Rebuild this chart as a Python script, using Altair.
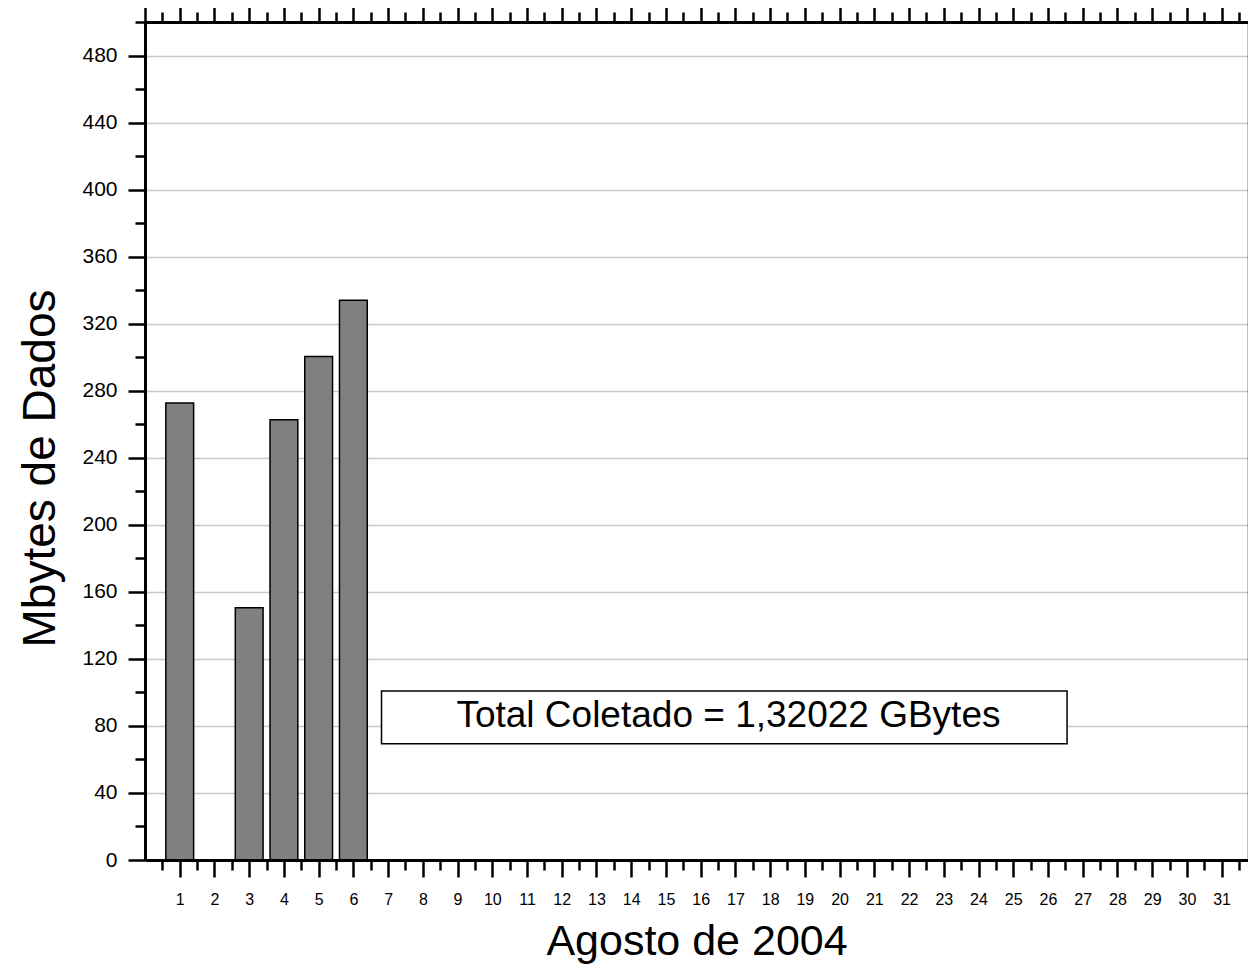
import altair as alt
import pandas as pd

# ---- data ----
days = [1, 3, 4, 5, 6]
mbytes = [272.6, 150.5, 262.7, 300.4, 334.0]

x_major_bottom = list(range(1, 32))
x_major_top = list(range(0, 32))
x_minor = [d + 0.5 for d in range(0, 32)]
y_major = list(range(0, 481, 40))
y_minor = list(range(20, 501, 40))

x_title = "Agosto de 2004"
y_title = "Mbytes de Dados"
note_text = "Total Coletado = 1,32022 GBytes"
note_box = {"x": 6.81, "x2": 26.55, "y": 69.3, "y2": 100.9}
note_pos = {"x": 16.8, "y": 86.0}

FONT = "Liberation Sans"

df = pd.DataFrame({"day": days, "mb": mbytes})
xs = alt.Scale(domain=[0, 31.76], nice=False, zero=False)
ys = alt.Scale(domain=[0, 500], nice=False, zero=False)

base = alt.Chart(df)

bars = base.mark_bar(color="#808080", stroke="black", strokeWidth=1.5).transform_calculate(
    x0="datum.day - 0.4", x1="datum.day + 0.4", y0="0"
).encode(
    x=alt.X("x0:Q", scale=xs, axis=alt.Axis(
        values=x_major_bottom, orient="bottom", tickSize=17, tickWidth=2.5,
        domainWidth=3, labelFontSize=16, labelPadding=14, labelFlush=False,
        labelOverlap=False, title=x_title, titleFontSize=43, titlePadding=13,
        grid=False, zindex=1)),
    x2="x1:Q",
    y=alt.Y("mb:Q", scale=ys, axis=alt.Axis(
        values=y_major, orient="left", tickSize=17, tickWidth=2.5,
        domainWidth=3, labelFontSize=21, labelPadding=11, labelFlush=False,
        labelOverlap=False, title=y_title, titleFontSize=46, titlePadding=17,
        titleY=446, grid=True, gridColor="#c8c8c8", gridWidth=1.5)),
    y2="y0:Q",
)


def axis_layer(xaxis, yaxis):
    return base.mark_point(opacity=0).encode(
        x=alt.X("day:Q", scale=xs, axis=xaxis, title=None),
        y=alt.Y("mb:Q", scale=ys, axis=yaxis, title=None),
    )


bottom_minor = axis_layer(
    alt.Axis(values=x_minor, orient="bottom", tickSize=10, tickWidth=2.5,
             labels=False, domain=False, grid=False, zindex=1), None)
top_major = axis_layer(
    alt.Axis(values=x_major_top, orient="top", tickSize=17, tickWidth=2.5,
             labels=False, domainWidth=3, grid=False, zindex=1), None)
top_minor = axis_layer(
    alt.Axis(values=x_minor, orient="top", tickSize=10, tickWidth=2.5,
             labels=False, domain=False, grid=False, zindex=1), None)
left_minor = axis_layer(
    None, alt.Axis(values=y_minor, orient="left", tickSize=10, tickWidth=2.5,
                   labels=False, domain=False, grid=False, zindex=1))
right_axis = axis_layer(
    None, alt.Axis(orient="right", ticks=False, labels=False,
                   domainWidth=1.5, grid=False, zindex=1))

note_df = pd.DataFrame([note_box])
box = alt.Chart(note_df).mark_rect(fill="white", stroke="black", strokeWidth=1.5).encode(
    x=alt.X("x:Q", scale=xs, axis=None),
    x2="x2:Q",
    y=alt.Y("y:Q", scale=ys, axis=None),
    y2="y2:Q",
)
label_df = pd.DataFrame([dict(note_pos, t=note_text)])
label = alt.Chart(label_df).mark_text(
    font=FONT, fontSize=37, baseline="middle", align="center", color="black"
).encode(
    x=alt.X("x:Q", scale=xs, axis=None),
    y=alt.Y("y:Q", scale=ys, axis=None),
    text="t:N",
)

chart = alt.layer(
    bars, bottom_minor, top_major, top_minor, left_minor, right_axis, box, label
).resolve_axis(
    x="independent", y="independent"
).properties(
    width=1103, height=838,
    autosize=alt.AutoSizeParams(type="none"),
    padding={"left": 137, "top": 14, "right": 0, "bottom": 105},
    background="white",
).configure_view(
    stroke=None
).configure_axis(
    domainColor="black", tickColor="black", labelColor="black", titleColor="black",
    labelFont=FONT, titleFont=FONT, titleFontWeight="normal",
)

chart.save("out.html", embed_options={"renderer": "svg", "actions": False})
